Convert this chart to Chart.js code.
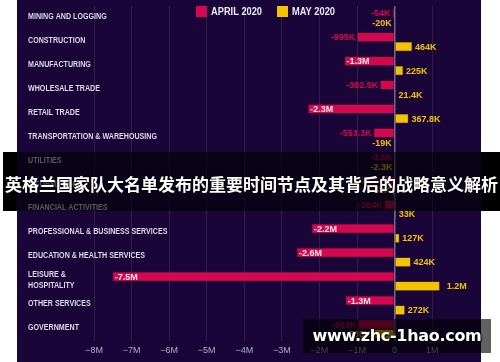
<!DOCTYPE html>
<html>
<head>
<meta charset="utf-8">
<script src="https://cdn.jsdelivr.net/npm/chart.js@4.4.1/dist/chart.umd.min.js"></script>
<style>
  body { margin: 0; background: #fff; }
  #wrap { position: relative; width: 500px; height: 362px; overflow: hidden; background: #fff; }
  #bg { position: absolute; left: 17px; top: 0; width: 464px; height: 362px; background: #190538; }
  #banner { position: absolute; left: 3px; top: 152px; width: 497px; height: 59px; background: rgba(0,0,0,0.6); }
  #banner .edge { position: absolute; top: 0; height: 59px; background: #000; }
  #banner span { position: absolute; left: 0; top: 0; width: 497px; text-align: center; color: #fff;
    font: bold 17px "Noto Sans CJK SC", sans-serif; line-height: 64px; white-space: nowrap; letter-spacing: 0px; text-shadow: 0 0 2px #000; }
  #mark { position: absolute; left: 303px; top: 319px; width: 188px; height: 34px; background: rgba(0,0,0,0.62); }
  #mark span { position: absolute; left: 0; top: 0; width: 188px; text-align: center; color: #fff;
    font: bold 16px "DejaVu Sans", sans-serif; line-height: 34px; letter-spacing: -0.3px; text-shadow: 1px 1px 2px #000; }
</style>
</head>
<body>
<div id="wrap">
  <div id="bg"><canvas id="myChart" width="464" height="362"></canvas></div>
  <div id="banner">
    <div class="edge" style="left:0;width:14px"></div>
    <div class="edge" style="left:478px;width:19px"></div>
    <span>英格兰国家队大名单发布的重要时间节点及其背后的战略意义解析</span>
  </div>
  <div id="mark"><span>www.zhc-1hao.com</span></div>
</div>
<script>
// categories and values (jobs change, from the picture)
var categories = ['MINING AND LOGGING', 'CONSTRUCTION', 'MANUFACTURING', 'WHOLESALE TRADE', 'RETAIL TRADE',
  'TRANSPORTATION & WAREHOUSING', 'UTILITIES', 'INFORMATION', 'FINANCIAL ACTIVITIES',
  'PROFESSIONAL & BUSINESS SERVICES', 'EDUCATION & HEALTH SERVICES', ['LEISURE &', 'HOSPITALITY'],
  'OTHER SERVICES', 'GOVERNMENT'];
var april = [-54000, -995000, -1330000, -382500, -2300000, -553300, -3600, -254000, -264000,
  -2200000, -2600000, -7500000, -1300000, -963000];
var may = [-20000, 464000, 225000, 21400, 367800, -19000, -2300, -58000, 33000,
  127000, 424000, 1200000, 272000, -585000];
var seriesNames = ['APRIL 2020', 'MAY 2020'];
var xTicks = [-8e6, -7e6, -6e6, -5e6, -4e6, -3e6, -2e6, -1e6, 0, 1e6];

var PINK = '#d4084f';
var YELLOW = '#f3c300';
var FONT = '"Liberation Sans", Arial, sans-serif';

function fmt(v) {
  var a = Math.abs(v), s = v < 0 ? '-' : '';
  if (a >= 1e6) return s + (a / 1e6).toFixed(1).replace(/\.0$/, '') + 'M';
  return s + (a / 1e3).toFixed(1).replace(/\.0$/, '') + 'K';
}

// squeeze text horizontally (the original uses a condensed face)
function narrowText(c, txt, x, y, sx) {
  c.save();
  c.translate(x, y);
  c.scale(sx, 1);
  c.fillText(txt, 0, 0);
  c.restore();
}

// category names on the left, over the plot
var catLabels = {
  id: 'catLabels',
  afterDraw: function(chart) {
    var c = chart.ctx, y = chart.scales.y;
    c.save();
    c.fillStyle = '#ddd7e8';
    c.font = 'bold 9px ' + FONT;
    c.textBaseline = 'middle';
    c.textAlign = 'left';
    var sx = 129 / c.measureText('TRANSPORTATION & WAREHOUSING').width;
    categories.forEach(function(cat, i) {
      var py = y.getPixelForValue(i) - 1.5;
      if (Array.isArray(cat)) {
        narrowText(c, cat[0], 11, py - 5.5, sx);
        narrowText(c, cat[1], 11, py + 5.5, sx);
      } else {
        narrowText(c, cat, 11, py, sx);
      }
    });
    c.restore();
  }
};

// value labels next to / inside bars
var valueLabels = {
  id: 'valueLabels',
  afterDatasetsDraw: function(chart) {
    var c = chart.ctx;
    c.save();
    c.font = 'bold 9.5px ' + FONT;
    c.textBaseline = 'middle';
    var sx = 32 / c.measureText('-553.3K').width;
    chart.data.datasets.forEach(function(ds, di) {
      chart.getDatasetMeta(di).data.forEach(function(bar, i) {
        var v = ds.data[i], txt = fmt(v);
        if (v < 0) {
          if (di === 0 && v <= -1e6) {
            c.fillStyle = '#ffe3ec';
            c.textAlign = 'left';
            narrowText(c, txt, bar.x + 2, bar.y + 0.5, sx);
          } else {
            c.fillStyle = di === 0 ? PINK : YELLOW;
            c.textAlign = 'right';
            narrowText(c, txt, bar.x - 2, bar.y + 0.5, sx);
          }
        } else {
          c.fillStyle = YELLOW;
          c.textAlign = 'left';
          narrowText(c, txt, bar.x + (v >= 1e6 ? 7 : 3), bar.y + 0.5, sx);
        }
      });
    });
    c.restore();
  }
};

// legend at the top
var topLegend = {
  id: 'topLegend',
  afterDraw: function(chart) {
    var c = chart.ctx;
    var items = [{ x: 179, color: PINK }, { x: 260, color: YELLOW }];
    c.save();
    c.font = 'bold 10.5px ' + FONT;
    c.textBaseline = 'middle';
    c.textAlign = 'left';
    var sx = 51 / c.measureText('APRIL 2020').width;
    items.forEach(function(it, i) {
      c.fillStyle = it.color;
      c.fillRect(it.x, 6, 11, 11);
      c.fillStyle = '#ece8f2';
      narrowText(c, seriesNames[i], it.x + 15, 12, sx);
    });
    c.restore();
  }
};

var ctx = document.getElementById('myChart').getContext('2d');
var myChart = new Chart(ctx, {
  type: 'bar',
  data: {
    labels: categories,
    datasets: [
      { label: seriesNames[0], data: april, backgroundColor: PINK, borderColor: '#8c0a3c', borderWidth: 0.5 },
      { label: seriesNames[1], data: may, backgroundColor: YELLOW, borderColor: '#9c7d00', borderWidth: 0.5 }
    ]
  },
  options: {
    indexAxis: 'y',
    responsive: false,
    animation: false,
    categoryPercentage: 0.8,
    barPercentage: 0.96,
    layout: { padding: { left: 77, right: 0, top: 6, bottom: 2 } },
    plugins: { legend: { display: false }, tooltip: { enabled: false } },
    scales: {
      y: { display: false },
      x: {
        min: -8e6,
        max: 2.3e6,
        afterBuildTicks: function(scale) {
          scale.ticks = xTicks.map(function(v) { return { value: v }; });
        },
        border: { display: false },
        grid: {
          drawTicks: false,
          lineWidth: function(c) { return c.tick && c.tick.value === 0 ? 1.5 : 1; },
          color: function(c) { return c.tick && c.tick.value === 0 ? 'rgba(190,180,210,0.55)' : 'rgba(255,255,255,0.1)'; }
        },
        ticks: {
          padding: 4,
          color: '#b4abc6',
          font: { size: 9, family: FONT },
          callback: function(v) { return v === 0 ? '0' : (v < 0 ? '\u2212' : '') + Math.abs(v / 1e6) + 'M'; }
        }
      }
    }
  },
  plugins: [catLabels, valueLabels, topLegend]
});
</script>
</body>
</html>
